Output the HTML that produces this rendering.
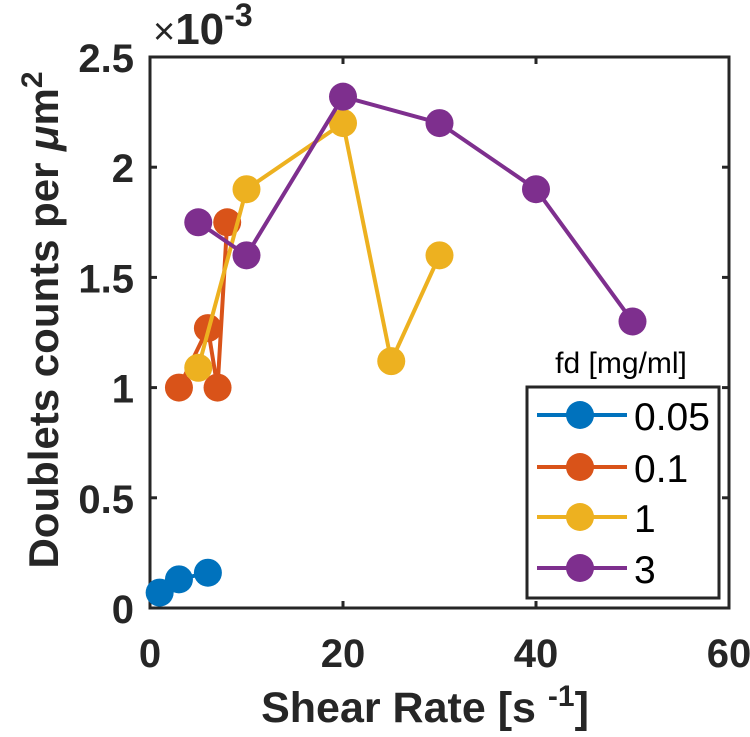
<!DOCTYPE html>
<html><head><meta charset="utf-8"><style>
body{margin:0;background:#fff;}
svg{display:block;font-family:"Liberation Sans",sans-serif;}
</style></head><body>
<svg id="chart" width="750" height="737" viewBox="0 0 750 737" xmlns="http://www.w3.org/2000/svg">
</svg>
<script>
const seriesNames = ["0.05","0.1","1","3"];
const colors = ["#0072BD","#D95319","#EDB120","#7E2F8E"];
const xBlue = [1,3,6];        const yBlue = [0.07,0.13,0.16];
const xOrange = [3,6,7,8];    const yOrange = [1.0,1.27,1.0,1.75];
const xYellow = [5,10,20,25,30]; const yYellow = [1.09,1.9,2.2,1.12,1.6];
const xPurple = [5,10,20,30,40,50]; const yPurple = [1.75,1.6,2.32,2.2,1.9,1.3];
const xTicks = [0,20,40,60];
const yTicks = [0,0.5,1,1.5,2,2.5];
const yTickLabels = ["0","0.5","1","1.5","2","2.5"];

const L=150,R=729,T=57,B=608;
const X=v=>L+(v-0)/(60-0)*(R-L);
const Y=v=>B-(v-0)/(2.5-0)*(B-T);
const NS="http://www.w3.org/2000/svg";
const svg=document.getElementById('chart');
function mk(tag,attrs,parent){const e=document.createElementNS(NS,tag);for(const k in attrs)e.setAttribute(k,attrs[k]);(parent||svg).appendChild(e);return e;}

const box=mk('rect',{x:L,y:T,width:R-L,height:B-T,fill:'none',stroke:'#262626','stroke-width':3});



xTicks.forEach(t=>{
  const tk=mk('line',{x1:X(t),x2:X(t),y1:B,y2:B-7,stroke:'#262626','stroke-width':3});
  
  
  const tk2=mk('line',{x1:X(t),x2:X(t),y1:T,y2:T+7,stroke:'#262626','stroke-width':3});
  
  
  const lb=mk('text',{x:X(t),y:667,'text-anchor':'middle','font-size':40,'font-weight':'bold',fill:'#262626'});
  lb.textContent=t;
  
  
});
yTicks.forEach((t,i)=>{
  const tk=mk('line',{x1:L,x2:L+7,y1:Y(t),y2:Y(t),stroke:'#262626','stroke-width':3});
  
  
  const tk2=mk('line',{x1:R,x2:R-7,y1:Y(t),y2:Y(t),stroke:'#262626','stroke-width':3});
  
  
  const lb=mk('text',{x:L-16,y:Y(t)+15,'text-anchor':'end','font-size':40,'font-weight':'bold',fill:'#262626'});
  lb.textContent=yTickLabels[i];
  
  
});

const ex=mk('text',{x:153,y:44,'font-size':44,'font-weight':'bold',fill:'#262626'});
ex.innerHTML='<tspan font-weight="normal" font-size="38">×</tspan>10<tspan dy="-18" font-size="32">-3</tspan>';



const xl=mk('text',{x:425,y:722,'text-anchor':'middle','font-size':43,'font-weight':'bold',fill:'#262626'});
xl.innerHTML='Shear Rate [s <tspan dy="-16" font-size="30">-1</tspan><tspan dy="16">]</tspan>';



const yl=mk('text',{x:0,y:0,'text-anchor':'middle','font-size':42,'font-weight':'bold',fill:'#262626',transform:'translate(58,320) rotate(-90)'});
yl.innerHTML='Doublets counts per  <tspan font-style="italic">μ</tspan>m<tspan dy="-16" font-size="30">2</tspan>';



const xs=[xBlue,xOrange,xYellow,xPurple], ys=[yBlue,yOrange,yYellow,yPurple];
xs.forEach((xa,s)=>{
  const g=mk('g',{});
  
  
  const pl=mk('polyline',{points:xa.map((x,i)=>X(x)+','+Y(ys[s][i])).join(' '),fill:'none',stroke:colors[s],'stroke-width':4},g);
  
  
  xa.forEach((x,i)=>{
    const c=mk('circle',{cx:X(x),cy:Y(ys[s][i]),r:14,fill:colors[s]},g);
    
    
  });
});

const lt=mk('text',{x:621,y:373,'text-anchor':'middle','font-size':30,fill:'#000'});
lt.textContent='fd [mg/ml]';


const lbx=mk('rect',{x:527,y:387,width:192,height:211,fill:'#fff',stroke:'#262626','stroke-width':3});


const ly=[415,467,517,568];
seriesNames.forEach((n,s)=>{
  const g=mk('g',{});
  
  
  mk('line',{x1:537,x2:627,y1:ly[s],y2:ly[s],stroke:colors[s],'stroke-width':4},g);
  mk('circle',{cx:580,cy:ly[s],r:14,fill:colors[s]},g);
  const t=mk('text',{x:634,y:ly[s]+15,'font-size':39,fill:'#000'},g);
  t.textContent=n;
});
</script>
</body></html>
